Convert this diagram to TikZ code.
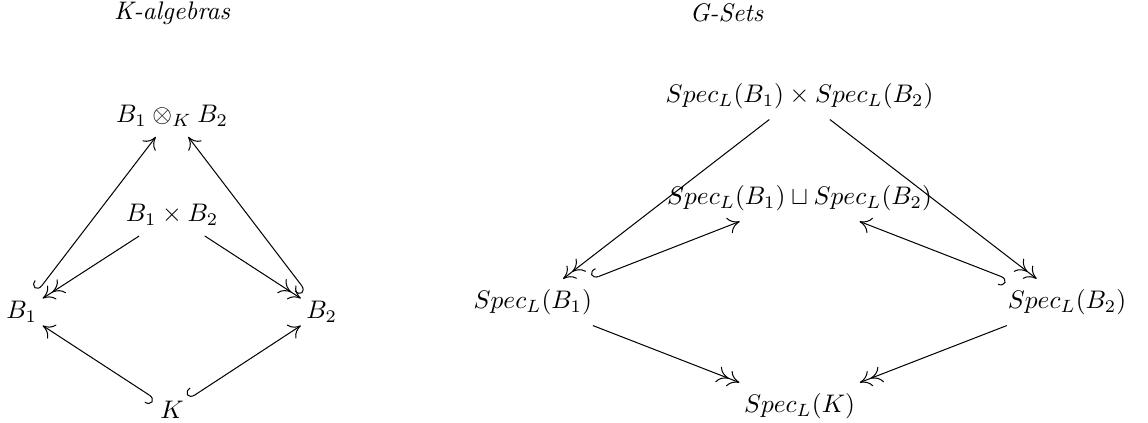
\documentclass[tikz,border=0pt]{standalone}
\usetikzlibrary{arrows.meta}
\begin{document}
\begin{tikzpicture}[>={To[length=4.5pt,width=6.5pt]},
    obj/.style={inner xsep=2pt, inner ysep=4pt},
    title/.style={font=\itshape},
    inc/.style={{Hooks[right,length=2.5pt,width=7pt]}->},
    surj/.style={->>}]

  \useasboundingbox (0,0) rectangle (15.88,5.85);

  % Titles
  \node[title] (talg) at (2.38, 5.67) {K-algebras};
  \node[title] (tset) at (10.05, 5.67) {G-Sets};

  % K-algebras
  \node[obj] (tens) at (2.38, 4.25) {$B_1\otimes_K B_2$};
  \node[obj] (prod) at (2.38, 2.88) {$B_1\times B_2$};
  \node[obj] (b1) at (0.30, 1.535) {$B_1$};
  \node[obj] (b2) at (4.45, 1.535) {$B_2$};
  \node[obj] (k) at (2.38, 0.18) {$K$};

  \draw[inc] (b1) -- (tens);
  \draw[inc] (b2) -- (tens);
  \draw[surj] (prod) -- (b1);
  \draw[surj] (prod) -- (b2);
  \draw[inc] (k) -- (b1);
  \draw[inc] (k) -- (b2);

  % G-Sets
  \node[obj] (sprod) at (11.06, 4.52) {$Spec_L(B_1)\times Spec_L(B_2)$};
  \node[obj] (scoprod) at (11.06, 3.11) {$Spec_L(B_1)\sqcup Spec_L(B_2)$};
  \node[obj] (sb1) at (7.37, 1.67) {$Spec_L(B_1)$};
  \node[obj] (sb2) at (14.76, 1.67) {$Spec_L(B_2)$};
  \node[obj] (sk) at (11.06, 0.235) {$Spec_L(K)$};

  \draw[surj] (sprod) -- (sb1);
  \draw[surj] (sprod) -- (sb2);
  \draw[inc] (sb1) -- (scoprod);
  \draw[inc] (sb2) -- (scoprod);
  \draw[surj] (sb1) -- (sk);
  \draw[surj] (sb2) -- (sk);
\end{tikzpicture}
\end{document}
